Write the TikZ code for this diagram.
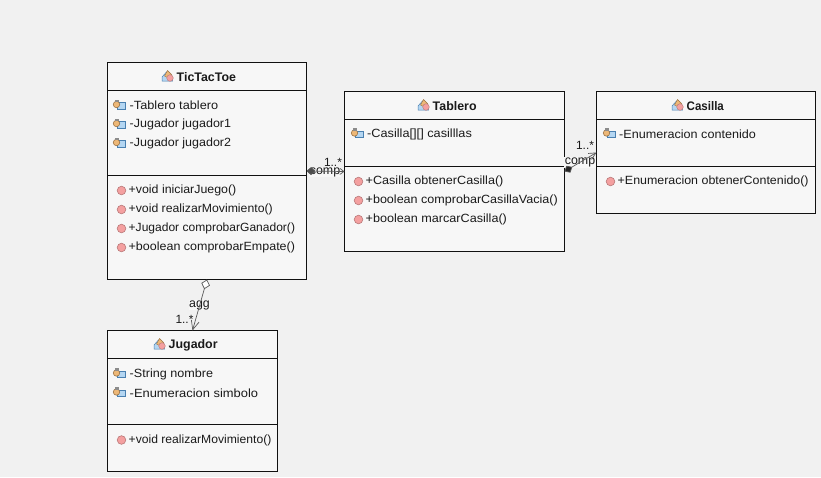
\documentclass[tikz,border=0pt]{standalone}
\usepackage{fontspec}
\setmainfont{Liberation Sans}
\usetikzlibrary{arrows.meta,calc}
\definecolor{bgc}{HTML}{F1F1F1}
\definecolor{boxc}{HTML}{F7F7F7}
\definecolor{edgec}{HTML}{111111}
\definecolor{txtc}{HTML}{1A1A1A}
\definecolor{pinkc}{HTML}{F4A0A0}
\definecolor{pinkd}{HTML}{B87878}
\definecolor{bluec}{HTML}{B4D6F2}
\definecolor{blued}{HTML}{4A80B0}
\definecolor{orangec}{HTML}{EDB878}
\definecolor{oranged}{HTML}{9A7040}
\newcommand{\sx}[2]{\scalebox{#1}[1]{#2}}
\tikzset{
  x=1pt,y=-1pt,
  classbox/.style={draw=edgec,fill=boxc,line width=0.9pt,inner sep=0pt,outer sep=0pt,anchor=north west},
  sepline/.style={draw=edgec,line width=0.9pt},
  title/.style={font=\fontsize{12.4}{14}\selectfont\bfseries,text=txtc,inner sep=0pt},
  member/.style={font=\fontsize{11.9}{14}\selectfont,text=txtc,inner sep=0pt,anchor=west},
  edgelabel/.style={font=\fontsize{12.4}{14}\selectfont,text=txtc,inner sep=0.5pt},
  multlabel/.style={font=\fontsize{11.9}{14}\selectfont,text=txtc,inner sep=0pt},
  assoc/.style={draw=black!65,line width=0.7pt},
  pics/attricon/.style={code={
    \fill[bluec,draw=blued,line width=0.7pt] (-1.5,-2) rectangle (6,4.5);
    \fill[orangec,draw=oranged,line width=0.6pt] (-2.5,0) circle (3.2);
    \fill[black!45] (-4.5,-5) rectangle (-0.5,-2.5);
  }},
  pics/methicon/.style={code={
    \fill[pinkc,draw=pinkd,line width=0.6pt] (0,0) circle (4.3);
  }},
  pics/classicon/.style={code={
    \fill[bluec,draw=blued,line width=0.5pt] (-5.5,1) -- (-1,-4) -- (5,1) -- (5,5) -- (-5.5,5) -- cycle;
    \fill[orangec,draw=oranged,line width=0.4pt] (-3,0) -- (0,-5.5) -- (4,-1.5) -- (1,2) -- cycle;
    \fill[pinkc,draw=pinkd,line width=0.4pt] (2.5,2) circle (3.3);
  }},
}
\begin{document}
\begin{tikzpicture}
\useasboundingbox (0,0) rectangle (821,477);
\fill[bgc] (0,0) rectangle (821,477);

% boxes
\node[classbox,minimum width=199pt,minimum height=217pt] (ttt) at (107.5,62.5) {};
\node[classbox,minimum width=220pt,minimum height=160pt] (tab) at (344.5,91.5) {};
\node[classbox,minimum width=219pt,minimum height=122pt] (cas) at (596.5,91.5) {};
\node[classbox,minimum width=170pt,minimum height=141pt] (jug) at (107.5,330.5) {};

% separators
\draw[sepline] (ttt.north west |- 0,90.5) -- (ttt.north east |- 0,90.5) (ttt.north west |- 0,175.5) -- (ttt.north east |- 0,175.5);
\draw[sepline] (tab.north west |- 0,119.5) -- (tab.north east |- 0,119.5) (tab.north west |- 0,166.5) -- (tab.north east |- 0,166.5);
\draw[sepline] (cas.north west |- 0,119.5) -- (cas.north east |- 0,119.5) (cas.north west |- 0,166.5) -- (cas.north east |- 0,166.5);
\draw[sepline] (jug.north west |- 0,358.5) -- (jug.north east |- 0,358.5) (jug.north west |- 0,424.5) -- (jug.north east |- 0,424.5);

% titles
\pic at (167.5,76) {classicon};
\node[title,anchor=west] (t1) at (176.5,77) {TicTacToe};
\pic at (423.5,105) {classicon};
\node[title,anchor=west] (t2) at (432.5,106) {Tablero};
\pic at (677.5,105) {classicon};
\node[title,anchor=west] (t3) at (686.5,106) {\sx{0.93}{Casilla}};
\pic at (159.5,344) {classicon};
\node[title,anchor=west] (t4) at (168.5,345) {Jugador};

% TicTacToe members
\pic at (119,104.5) {attricon};
\node[member] (a1) at (129.5,105.5) {\sx{1.07}{-Tablero tablero}};
\pic at (119,123.5) {attricon};
\node[member] (a2) at (129.5,124.5) {\sx{1.05}{-Jugador jugador1}};
\pic at (119,142.5) {attricon};
\node[member] (a3) at (129.5,143.5) {\sx{1.05}{-Jugador jugador2}};
\pic at (121.5,190.5) {methicon};
\node[member] (m1) at (128.5,190.5) {\sx{1.04}{+void iniciarJuego()}};
\pic at (121.5,209.5) {methicon};
\node[member] (m2) at (128.5,209.5) {\sx{1.03}{+void realizarMovimiento()}};
\pic at (121.5,228.5) {methicon};
\node[member] (m3) at (128.5,228.5) {\sx{1.012}{+Jugador comprobarGanador()}};
\pic at (121.5,247.5) {methicon};
\node[member] (m4) at (128.5,247.5) {\sx{1.05}{+boolean comprobarEmpate()}};

% Tablero members
\pic at (357,133) {attricon};
\node[member] (a4) at (367,134.5) {\sx{1.07}{-Casilla[][] casilllas}};
\pic at (358.5,181.5) {methicon};
\node[member] (m5) at (365.5,181.5) {\sx{1.06}{+Casilla obtenerCasilla()}};
\pic at (358.5,200.5) {methicon};
\node[member] (m6) at (365.5,200.5) {\sx{1.055}{+boolean comprobarCasillaVacia()}};
\pic at (358.5,219.5) {methicon};
\node[member] (m7) at (365.5,219.5) {\sx{1.06}{+boolean marcarCasilla()}};

% Casilla members
\pic at (609,133) {attricon};
\node[member] (a5) at (619,134.5) {\sx{1.06}{-Enumeracion contenido}};
\pic at (610.5,181.5) {methicon};
\node[member] (m8) at (617.5,181.5) {\sx{1.044}{+Enumeracion obtenerContenido()}};

% Jugador members
\pic at (119,373) {attricon};
\node[member] (a6) at (129.5,374) {\sx{1.06}{-String nombre}};
\pic at (119,392) {attricon};
\node[member] (a7) at (129.5,393) {\sx{1.085}{-Enumeracion simbolo}};
\pic at (121.5,440) {methicon};
\node[member] (m9) at (128.5,440) {\sx{1.02}{+void realizarMovimiento()}};

% connector labels
\node[edgelabel,fill=boxc] (l1) at (325,172) {comp};
\node[multlabel] (l2) at (333,162.5) {1..*};
\node[edgelabel,fill=boxc] (l3) at (580,162.5) {comp};
\node[multlabel] (l4) at (585,145.5) {1..*};
\node[edgelabel,fill=boxc] (l5) at (199.5,305) {agg};
\node[multlabel] (l6) at (184.5,319) {1..*};

% connectors
\draw[assoc,{Diamond[length=9pt,width=8pt,fill=black!70]}-{Straight Barb[length=4pt,width=6pt]}] (ttt.east) -- (tab.west);
\draw[assoc,{Diamond[length=9pt,width=8pt,fill=black!85]}-{Straight Barb[length=7pt,width=7pt]}] (tab.east) -- (cas.west);
\draw[assoc,{Diamond[length=10pt,width=9pt,open,fill=white]}-{Straight Barb[length=9pt,width=8pt]}] (ttt.south) -- (jug.north);
\end{tikzpicture}
\end{document}
